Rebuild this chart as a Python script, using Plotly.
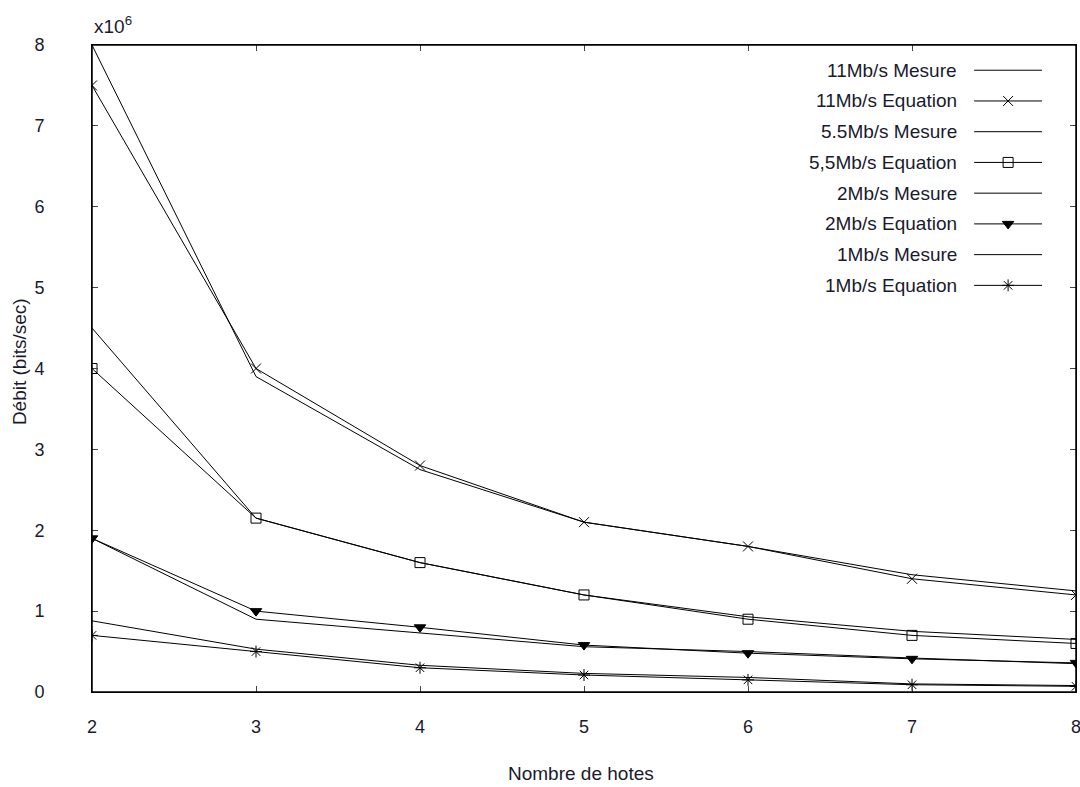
import plotly.graph_objects as go

# Data (throughput in units of 1e6 bits/sec)
hosts = [2, 3, 4, 5, 6, 7, 8]
mes_11 = [8.0, 3.9, 2.75, 2.1, 1.8, 1.45, 1.25]
eq_11 = [7.5, 4.0, 2.8, 2.1, 1.8, 1.4, 1.2]
mes_55 = [4.5, 2.15, 1.6, 1.2, 0.93, 0.75, 0.65]
eq_55 = [4.0, 2.15, 1.6, 1.2, 0.9, 0.7, 0.6]
mes_2 = [1.9, 0.9, 0.73, 0.56, 0.5, 0.42, 0.35]
eq_2 = [1.9, 1.0, 0.8, 0.58, 0.48, 0.41, 0.36]
mes_1 = [0.88, 0.53, 0.33, 0.23, 0.18, 0.1, 0.08]
eq_1 = [0.7, 0.5, 0.3, 0.21, 0.15, 0.09, 0.07]

labels = ["11Mb/s Mesure", "11Mb/s Equation", "5.5Mb/s Mesure", "5,5Mb/s Equation",
          "2Mb/s Mesure", "2Mb/s Equation", "1Mb/s Mesure", "1Mb/s Equation"]
series = [mes_11, eq_11, mes_55, eq_55, mes_2, eq_2, mes_1, eq_1]
symbols = [None, "x-thin-open", None, "square-open", None, "triangle-down", None, "asterisk-open"]
y_ticks = [0, 1, 2, 3, 4, 5, 6, 7, 8]

FONT = "Liberation Sans, Arial, sans-serif"
TXT = "#1a1a2e"
fig = go.Figure()

for lab, ys, sym in zip(labels, series, symbols):
    if sym is None:
        fig.add_trace(go.Scatter(x=hosts, y=ys, mode="lines", name=lab,
                                 line=dict(color="black", width=1), showlegend=False))
    else:
        fig.add_trace(go.Scatter(x=hosts, y=ys, mode="lines+markers", name=lab,
                                 line=dict(color="black", width=1),
                                 marker=dict(symbol=sym, size=10, color="black",
                                             line=dict(color="black", width=1)),
                                 showlegend=False))

# gnuplot-style key: text right-aligned, then line sample with marker
key_top = 0.961
key_step = 0.0475
x_text = 0.881
x_l0, x_l1 = 0.8965, 0.9655
for i, (lab, sym) in enumerate(zip(labels, symbols)):
    yk = key_top - i * key_step
    fig.add_annotation(x=x_text, y=yk, xref="paper", yref="paper", text=lab,
                       showarrow=False, xanchor="right", yanchor="middle",
                       font=dict(family=FONT, size=19, color=TXT))
    fig.add_shape(type="line", xref="paper", yref="paper", x0=x_l0, x1=x_l1, y0=yk, y1=yk,
                  line=dict(color="black", width=1))
    if sym is not None:
        fig.add_trace(go.Scatter(x=[(x_l0 + x_l1) / 2], y=[yk], xaxis="x2", yaxis="y2",
                                 mode="markers", showlegend=False, hoverinfo="skip",
                                 marker=dict(symbol=sym, size=10, color="black",
                                             line=dict(color="black", width=1))))

# plot frame
fig.add_shape(type="rect", xref="paper", yref="paper", x0=0, x1=1, y0=0, y1=1,
              line=dict(color="black", width=1.5), layer="above")

fig.add_annotation(x=0, y=1.0, xref="paper", yref="paper", text="x10<sup>6</sup>",
                   showarrow=False, xanchor="left", yanchor="bottom", yshift=6,
                   font=dict(family=FONT, size=19, color=TXT))
fig.add_annotation(x=0.4965, y=-0.1267, xref="paper", yref="paper", text="Nombre de hotes",
                   showarrow=False, xanchor="center", yanchor="middle",
                   font=dict(family=FONT, size=19, color=TXT))
fig.add_annotation(x=-0.0741, y=0.51, xref="paper", yref="paper", text="Débit (bits/sec)",
                   showarrow=False, xanchor="center", yanchor="middle", textangle=-90,
                   font=dict(family=FONT, size=19, color=TXT))

fig.update_layout(
    width=1080, height=787,
    margin=dict(l=92, r=4, t=45, b=95),
    paper_bgcolor="white", plot_bgcolor="white",
    font=dict(family=FONT, size=18, color=TXT),
    xaxis=dict(range=[2, 8], tickvals=hosts, ticks="inside", ticklen=6,
               showline=True, linecolor="black", linewidth=1, mirror="ticks",
               showgrid=False, zeroline=False, tickfont=dict(size=18, color=TXT),
               ticklabelstandoff=18, ticklabeloverflow="allow", automargin=False),
    yaxis=dict(range=[0, 8], tickvals=y_ticks, ticks="inside", ticklen=6,
               showline=True, linecolor="black", linewidth=1, mirror="ticks",
               showgrid=False, zeroline=False, tickfont=dict(size=18, color=TXT),
               ticklabelstandoff=43, ticklabeloverflow="allow", automargin=False),
    xaxis2=dict(range=[0, 1], overlaying="x", visible=False, anchor="y2"),
    yaxis2=dict(range=[0, 1], overlaying="y", visible=False, anchor="x2"),
)

fig.write_html("out.html", config={"displayModeBar": False},
               post_script="document.body.style.margin='0';document.body.style.overflow='hidden';")
